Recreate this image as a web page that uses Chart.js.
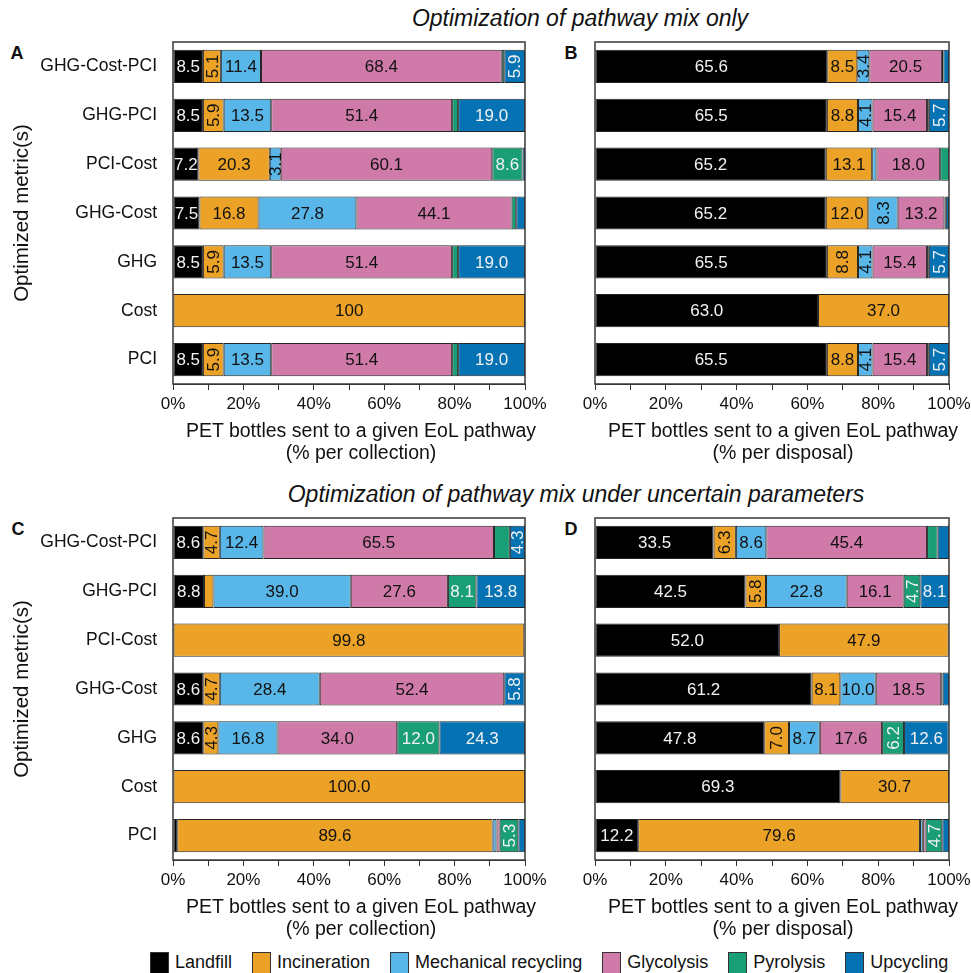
<!DOCTYPE html>
<html>
<head>
<meta charset="utf-8">
<title>PET bottle EoL pathway mix</title>
<script src="https://cdn.jsdelivr.net/npm/chart.js@4.4.1/dist/chart.umd.min.js"></script>
<style>
  html, body { margin: 0; padding: 0; background: #fff; }
  body {
    width: 971px; height: 973px; position: relative; overflow: hidden;
    font-family: 'Liberation Sans', Arial, sans-serif; color: #111;
  }
  canvas { position: absolute; }
  .txt { position: absolute; transform: translate(-50%, -50%); white-space: nowrap; }
  .section { font-size: 23px; font-style: italic; }
  .panel { font-size: 18px; font-weight: bold; }
  .xtitle { font-size: 19.5px; text-align: center; line-height: 22px; }
  .legend { position: absolute; left: 150px; top: 952px; display: flex; font-size: 18px; }
  .legend .item { display: flex; align-items: flex-start; margin-right: 20px; }
  .legend .box { width: 19px; height: 24px; border: 1px solid #333; box-sizing: border-box; margin-right: 6px; }
  .legend .name { line-height: 20px; }
</style>
</head>
<body>

<div class="txt section" style="left:580px; top:18px">Optimization of pathway mix only</div>
<div class="txt section" style="left:576px; top:494px">Optimization of pathway mix under uncertain parameters</div>

<div class="txt panel" style="left:17px; top:53px">A</div>
<div class="txt panel" style="left:571px; top:53px">B</div>
<div class="txt panel" style="left:18px; top:529px">C</div>
<div class="txt panel" style="left:571px; top:529px">D</div>

<canvas id="chartA" width="550" height="390" style="left:0; top:30px"></canvas>
<canvas id="chartB" width="411" height="390" style="left:560px; top:30px"></canvas>
<canvas id="chartC" width="550" height="390" style="left:0; top:506px"></canvas>
<canvas id="chartD" width="411" height="390" style="left:560px; top:506px"></canvas>

<div class="txt xtitle" style="left:361px; top:441px">PET bottles sent to a given EoL pathway<br>(% per collection)</div>
<div class="txt xtitle" style="left:783px; top:441px">PET bottles sent to a given EoL pathway<br>(% per disposal)</div>
<div class="txt xtitle" style="left:361px; top:917px">PET bottles sent to a given EoL pathway<br>(% per collection)</div>
<div class="txt xtitle" style="left:783px; top:917px">PET bottles sent to a given EoL pathway<br>(% per disposal)</div>

<div class="legend" id="legend"></div>

<script>
// Categories (top to bottom) and series
const metrics = ['GHG-Cost-PCI', 'GHG-PCI', 'PCI-Cost', 'GHG-Cost', 'GHG', 'Cost', 'PCI'];
const pathways = ['Landfill', 'Incineration', 'Mechanical recycling', 'Glycolysis', 'Pyrolysis', 'Upcycling'];

// Shares per metric row, in pathway order (%)
// A: pathway mix only, per collection
const mixOnlyCollection = [
    [8.5, 5.1, 11.4, 68.4, 0.7, 5.9],
    [8.5, 5.9, 13.5, 51.4, 1.7, 19.0],
    [7.2, 20.3, 3.1, 60.1, 8.6, 0.7],
    [7.5, 16.8, 27.8, 44.1, 1.3, 2.5],
    [8.5, 5.9, 13.5, 51.4, 1.7, 19.0],
    [0, 100, 0, 0, 0, 0],
    [8.5, 5.9, 13.5, 51.4, 1.7, 19.0]
];
// B: pathway mix only, per disposal
const mixOnlyDisposal = [
    [65.6, 8.5, 3.4, 20.5, 0.4, 1.6],
    [65.5, 8.8, 4.1, 15.4, 0.5, 5.7],
    [65.2, 13.1, 1.2, 18.0, 2.5, 0],
    [65.2, 12.0, 8.3, 13.2, 0.4, 0.9],
    [65.5, 8.8, 4.1, 15.4, 0.5, 5.7],
    [63.0, 37.0, 0, 0, 0, 0],
    [65.5, 8.8, 4.1, 15.4, 0.5, 5.7]
];
// C: uncertain parameters, per collection
const uncertainCollection = [
    [8.6, 4.7, 12.4, 65.5, 4.5, 4.3],
    [8.8, 2.7, 39.0, 27.6, 8.1, 13.8],
    [0, 99.8, 0, 0, 0, 0],
    [8.6, 4.7, 28.4, 52.4, 0, 5.8],
    [8.6, 4.3, 16.8, 34.0, 12.0, 24.3],
    [0, 100.0, 0, 0, 0, 0],
    [1.2, 89.6, 1.1, 0.9, 5.3, 1.9]
];
// D: uncertain parameters, per disposal
const uncertainDisposal = [
    [33.5, 6.3, 8.6, 45.4, 3.0, 3.2],
    [42.5, 5.8, 22.8, 16.1, 4.7, 8.1],
    [52.0, 47.9, 0, 0, 0, 0],
    [61.2, 8.1, 10.0, 18.5, 0.4, 1.8],
    [47.8, 7.0, 8.7, 17.6, 6.2, 12.6],
    [69.3, 30.7, 0, 0, 0, 0],
    [12.2, 79.6, 0.8, 0.8, 4.7, 1.9]
];

const colors = ['#000000', '#EBA226', '#58B6E8', '#D07AAA', '#1A9E76', '#0572B4'];
const labelColors = ['#f2f2f2', '#111', '#111', '#111', '#f2f2f2', '#f2f2f2'];
const FONT = "'Liberation Sans', Arial, sans-serif";

// Segment value labels ("row:series" keys for exceptions)
const valueLabels = {
    id: 'valueLabels',
    afterDatasetsDraw(chart, args, opts) {
        const { ctx } = chart;
        ctx.save();
        ctx.font = '17px ' + FONT;
        ctx.textAlign = 'center';
        ctx.textBaseline = 'middle';
        chart.data.datasets.forEach((ds, s) => {
            chart.getDatasetMeta(s).data.forEach((bar, i) => {
                const v = ds.data[i];
                const key = i + ':' + s;
                if (v == null || v < 3.1 || opts.hidden.includes(key)) return;
                const text = opts.text[key] || v.toFixed(1);
                const x = (bar.x + bar.base) / 2;
                ctx.fillStyle = labelColors[s];
                if (v < 7.1 || opts.rotated.includes(key)) {
                    ctx.save();
                    ctx.translate(x + 1, bar.y);
                    ctx.rotate(-Math.PI / 2);
                    ctx.fillText(text, 0, 0);
                    ctx.restore();
                } else {
                    ctx.fillText(text, x, bar.y + 1);
                }
            });
        });
        ctx.restore();
    }
};

// Box round the plot area
const frame = {
    id: 'frame',
    afterDraw(chart) {
        const { ctx, chartArea: a } = chart;
        ctx.save();
        ctx.strokeStyle = '#3a3a3a';
        ctx.lineWidth = 1.5;
        ctx.strokeRect(a.left, a.top, a.right - a.left, a.bottom - a.top);
        ctx.restore();
    }
};

function makeChart(id, rows, opt) {
    return new Chart(document.getElementById(id), {
        type: 'bar',
        data: {
            labels: metrics,
            datasets: pathways.map((name, s) => ({
                label: name,
                data: rows.map(r => r[s] || null),
                backgroundColor: colors[s],
                borderColor: '#262626',
                borderWidth: 1,
                borderSkipped: false,
                categoryPercentage: 0.68,
                barPercentage: 1
            }))
        },
        options: {
            indexAxis: 'y',
            responsive: false,
            animation: false,
            layout: { padding: { left: 0, right: opt.padRight, top: 12, bottom: 0 } },
            plugins: {
                legend: { display: false },
                tooltip: { enabled: false },
                valueLabels: { hidden: opt.hidden || [], rotated: opt.rotated || [], text: opt.text || {} }
            },
            scales: {
                x: {
                    stacked: true,
                    min: 0,
                    max: 100,
                    ticks: {
                        stepSize: 10,
                        autoSkip: false,
                        maxRotation: 0,
                        padding: 4,
                        color: '#111',
                        font: { family: FONT, size: 17 },
                        callback: v => (v % 20 === 0 ? v + '%' : '')
                    },
                    grid: { drawOnChartArea: false, tickLength: 6, color: '#333' },
                    border: { color: '#333' },
                    afterFit: s => {
                        s.height = 36;
                        s.paddingLeft = 0;
                        s.paddingRight = 0;
                    }
                },
                y: {
                    stacked: true,
                    ticks: {
                        display: opt.showMetrics,
                        padding: 16,
                        color: '#111',
                        font: { family: FONT, size: 17.5 }
                    },
                    grid: { display: false, drawTicks: false },
                    border: { display: false },
                    title: {
                        display: opt.showMetrics,
                        text: 'Optimized metric(s)',
                        color: '#111',
                        font: { family: FONT, size: 20.5 },
                        padding: { top: 10, bottom: 0 }
                    },
                    afterFit: s => {
                        s.width = opt.axisWidth;
                        s.paddingTop = 0;
                        s.paddingBottom = 0;
                    }
                }
            }
        },
        plugins: [valueLabels, frame]
    });
}

makeChart('chartA', mixOnlyCollection, {
    showMetrics: true, axisWidth: 173, padRight: 25,
    text: { '5:1': '100' }
});
makeChart('chartB', mixOnlyDisposal, {
    showMetrics: false, axisWidth: 35, padRight: 22,
    rotated: ['3:2', '4:1']
});
makeChart('chartC', uncertainCollection, {
    showMetrics: true, axisWidth: 173, padRight: 25,
    hidden: ['0:4']
});
makeChart('chartD', uncertainDisposal, {
    showMetrics: false, axisWidth: 35, padRight: 22,
    hidden: ['0:5']
});

// Shared legend
const legend = document.getElementById('legend');
pathways.forEach((name, s) => {
    const item = document.createElement('div');
    item.className = 'item';
    item.innerHTML = '<div class="box" style="background:' + colors[s] + '"></div><div class="name">' + name + '</div>';
    legend.appendChild(item);
});
</script>
</body>
</html>
